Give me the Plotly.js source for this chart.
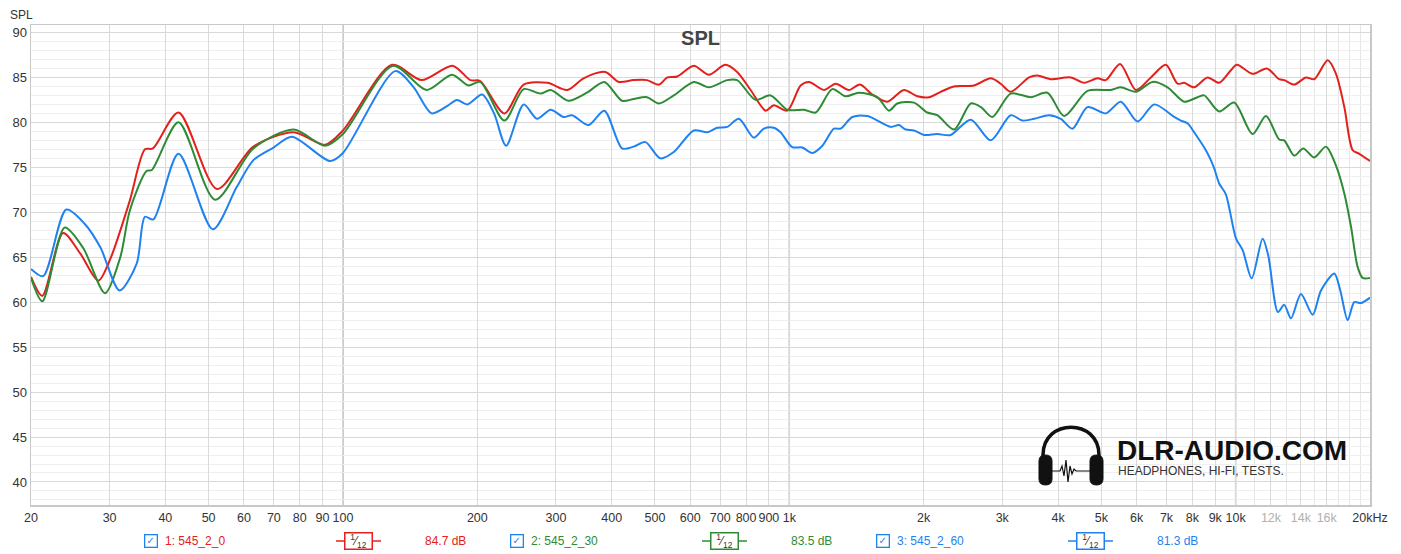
<!DOCTYPE html>
<html>
<head>
<meta charset="utf-8">
<script src="https://cdn.plot.ly/plotly-3.0.1.min.js"></script>
<style>
html, body { margin: 0; padding: 0; background: #fff; }
#plot { width: 1401px; height: 554px; }
</style>
</head>
<body>
<div id="plot"></div>
<script>
// measured curves, frequency in Hz and level in dB
const freqRed = [20, 21.2, 23.6, 25.8, 28.3, 30.1, 33.3, 36, 37.5, 42.8, 52.2, 63, 77.5, 91.2, 100, 128.7, 150, 176, 193, 203, 230, 254, 287, 318, 346, 387, 415, 448, 480, 510, 533, 561, 611, 660, 719, 764, 819, 885, 923, 990, 1060, 1107, 1196, 1270, 1360, 1440, 1535, 1658, 1806, 1936, 2055, 2184, 2339, 2594, 2826, 2976, 3134, 3444, 3596, 3854, 4272, 4577, 4903, 5118, 5510, 5976, 6457, 6977, 7411, 7668, 8072, 8651, 9186, 9758, 10066, 10916, 11750, 12520, 12848, 13530, 14372, 15000, 16078, 16782, 17518, 18292, 18924, 20000];
const splRed = [62.8, 60.7, 67.7, 65.4, 62.4, 64.8, 71.3, 77.0, 77.1, 81.1, 72.6, 77.3, 78.9, 77.5, 79.1, 86.4, 84.7, 86.3, 84.7, 84.6, 81.0, 84.2, 84.4, 83.6, 84.9, 85.6, 84.5, 84.7, 84.7, 84.2, 85.0, 85.1, 86.3, 85.3, 86.4, 85.6, 83.6, 81.3, 81.9, 81.3, 84.1, 84.5, 83.6, 84.3, 83.6, 84.2, 83.1, 82.3, 83.6, 82.9, 82.8, 83.4, 84.0, 84.1, 84.9, 84.3, 83.4, 85.0, 85.2, 84.8, 85.0, 84.4, 84.9, 84.7, 86.5, 83.6, 85.0, 86.4, 84.3, 84.4, 83.9, 85.0, 84.4, 85.8, 86.4, 85.4, 86.0, 84.8, 84.7, 84.2, 85.0, 84.8, 86.9, 85.4, 81.7, 76.9, 76.5, 75.7];

const freqGreen = [20, 21.2, 23.8, 26.2, 29.3, 31.7, 33.3, 36.3, 37.3, 42.8, 51.7, 63, 77.5, 91.2, 100, 129.4, 154, 175.5, 191, 203, 230, 254, 277, 292, 320, 352, 385, 422, 448, 480, 510, 551, 611, 660, 726, 764, 840, 908, 990, 1079, 1146, 1248, 1337, 1432, 1575, 1672, 1746, 1902, 2038, 2146, 2339, 2550, 2686, 2851, 3134, 3476, 3788, 4128, 4656, 5252, 5530, 5976, 6512, 7038, 7668, 8220, 8506, 9186, 9922, 10912, 11694, 12520, 12848, 13530, 14174, 15000, 15934, 16782, 17518, 18134, 18768, 19258, 20000];
const splGreen = [62.7, 60.1, 68.3, 66.0, 61.0, 65.0, 70.2, 74.6, 74.7, 80.0, 71.4, 77.1, 79.2, 77.4, 78.7, 86.3, 83.6, 85.3, 84.1, 84.5, 80.2, 83.7, 83.2, 83.6, 82.4, 83.3, 84.5, 82.4, 82.6, 82.8, 82.1, 83.0, 84.5, 83.9, 84.7, 84.7, 82.5, 83.0, 81.4, 81.4, 81.1, 83.7, 82.9, 83.3, 82.8, 81.3, 82.1, 82.2, 81.1, 80.8, 79.2, 82.1, 81.7, 80.6, 83.2, 82.8, 83.3, 80.7, 83.5, 83.6, 83.9, 83.4, 84.5, 83.9, 82.3, 82.8, 83.0, 81.2, 82.2, 78.7, 80.7, 78.1, 78.0, 76.3, 77.1, 76.1, 77.3, 75.2, 72.1, 68.4, 63.9, 62.7, 62.7];

const freqBlue = [20, 21.3, 24.0, 26.4, 28.6, 31.6, 34.5, 36.0, 37.6, 42.8, 51.1, 57.8, 63, 69.9, 76.8, 93.6, 100, 131, 144, 158, 171, 180, 190, 205, 218, 232, 254, 272, 292, 312, 326, 355, 385, 422, 448, 476, 514, 551, 611, 655, 689, 726, 771, 833, 877, 923, 956, 1015, 1069, 1126, 1186, 1259, 1303, 1384, 1496, 1687, 1760, 1823, 1902, 2003, 2146, 2299, 2550, 2826, 3134, 3329, 3534, 3819, 4058, 4310, 4656, 5118, 5530, 6028, 6568, 7282, 7538, 7804, 8072, 8576, 8798, 8950, 9186, 9508, 10016, 10368, 10862, 11494, 11832, 12438, 12848, 13302, 14006, 14878, 15530, 16634, 17158, 17826, 18442, 19090, 20000];
const splBlue = [63.7, 62.9, 70.3, 68.7, 66.1, 61.3, 64.3, 69.5, 69.2, 76.5, 68.1, 72.8, 75.8, 77.2, 78.4, 75.7, 76.6, 85.7, 83.9, 81.0, 81.8, 82.5, 82.0, 83.1, 81.0, 77.4, 82.0, 80.4, 81.4, 80.6, 80.8, 79.7, 81.3, 77.1, 77.3, 77.8, 76.0, 76.7, 79.1, 78.9, 79.4, 79.5, 80.4, 78.3, 79.3, 79.4, 78.9, 77.25, 77.2, 76.6, 77.4, 79.3, 79.3, 80.6, 80.7, 79.5, 79.7, 79.2, 79.1, 78.6, 78.7, 78.6, 80.3, 78.0, 80.8, 80.2, 80.4, 80.8, 80.4, 79.3, 81.7, 81.0, 82.3, 80.1, 82.0, 80.6, 80.2, 79.9, 78.9, 76.9, 75.8, 74.9, 73.2, 72.0, 67.1, 65.8, 62.65, 67.05, 65.2, 58.9, 59.7, 58.2, 60.9, 58.6, 61.3, 63.2, 61.3, 58.0, 60.0, 59.9, 60.5];

const seriesNames = ['1: 545_2_0', '2: 545_2_30', '3: 545_2_60'];
const seriesLevels = ['84.7 dB', '83.5 dB', '81.3 dB'];
const seriesColors = ['#e3211c', '#2e8b35', '#1e82f0'];

const xTickVals = [20, 30, 40, 50, 60, 70, 80, 90, 100, 200, 300, 400, 500, 600, 700, 800, 900, 1000, 2000, 3000, 4000, 5000, 6000, 7000, 8000, 9000, 10000, 12000, 14000, 16000, 20000];
const xTickText = ['20', '30', '40', '50', '60', '70', '80', '90', '100', '200', '300', '400', '500', '600', '700', '800', '900', '1k', '2k', '3k', '4k', '5k', '6k', '7k', '8k', '9k', '10k',
  '<span style="color:#b0b0b0">12k</span>', '<span style="color:#b0b0b0">14k</span>', '<span style="color:#b0b0b0">16k</span>', '20kHz'];
const xMinorVals = [11000, 12000, 13000, 14000, 15000, 16000, 17000, 18000, 19000];
const decadeVals = [100, 1000, 10000];
const fMin = 20, fMax = 20000;

const FONT = 'Liberation Sans, Arial, Helvetica, sans-serif';

// plot area in pixels, used to place the decorations below the chart
const L = 31, R = 1370, T = 25, B = 505;
function px(x) { return (x - L) / (R - L); }
function py(y) { return (B - y) / (B - T); }
function pt(x, y) { return px(x).toFixed(5) + ',' + py(y).toFixed(5); }
function fx(f) { return (Math.log10(f) - Math.log10(fMin)) / (Math.log10(fMax) - Math.log10(fMin)); }

let traces = [
  { x: freqRed, y: splRed, color: seriesColors[0] },
  { x: freqGreen, y: splGreen, color: seriesColors[1] },
  { x: freqBlue, y: splBlue, color: seriesColors[2] }
].map(s => ({
  x: s.x,
  y: s.y,
  type: 'scatter',
  mode: 'lines',
  line: { color: s.color, width: 2, shape: 'spline', smoothing: 0.8 },
  hoverinfo: 'skip'
}));

// darker grid line at each decade
let shapes = decadeVals.map(v => ({
  type: 'line', xref: 'paper', yref: 'paper',
  x0: fx(v), x1: fx(v), y0: 0, y1: 1,
  line: { color: '#b8b8b8', width: 1.5 }, layer: 'below'
}));

let annotations = [
  { text: 'SPL', xref: 'paper', yref: 'paper', x: px(21), y: py(15), showarrow: false,
    xanchor: 'center', yanchor: 'middle', font: { family: FONT, size: 12, color: '#333' } }
];

// legend row under the x axis
const rowY = 541;
seriesNames.forEach((name, i) => {
  const off = i * 366;
  const c = seriesColors[i];
  annotations.push({
    text: '✓', xref: 'paper', yref: 'paper', x: px(151 + off), y: py(rowY),
    showarrow: false, xanchor: 'center', yanchor: 'middle',
    font: { family: 'DejaVu Sans', size: 10, color: '#1e82f0' },
    bordercolor: '#1e82f0', borderwidth: 1.3, borderpad: 0, width: 11, height: 11, bgcolor: '#fff'
  });
  annotations.push({
    text: name, xref: 'paper', yref: 'paper', x: px(163 + off), y: py(rowY),
    showarrow: false, xanchor: 'left', yanchor: 'middle',
    font: { family: FONT, size: 12, color: c }
  });
  shapes.push({
    type: 'line', xref: 'paper', yref: 'paper',
    x0: px(336 + off), x1: px(381 + off), y0: py(rowY), y1: py(rowY),
    line: { color: c, width: 1.5 }
  });
  annotations.push({
    text: '<sup>1</sup>⁄<sub>12</sub>', xref: 'paper', yref: 'paper', x: px(358.5 + off), y: py(rowY),
    showarrow: false, xanchor: 'center', yanchor: 'middle',
    font: { family: FONT, size: 12, color: '#333' },
    bordercolor: c, borderwidth: 1.5, borderpad: 0, width: 26, height: 15, bgcolor: '#fff'
  });
  annotations.push({
    text: seriesLevels[i], xref: 'paper', yref: 'paper', x: px(445 + off), y: py(rowY),
    showarrow: false, xanchor: 'center', yanchor: 'middle',
    font: { family: FONT, size: 12, color: c }
  });
});

// watermark
shapes.push({
  type: 'path', xref: 'paper', yref: 'paper', layer: 'above',
  path: 'M' + pt(1043, 466) + ' L' + pt(1043, 455) + ' C' + pt(1043, 418) + ' ' + pt(1099, 418) + ' ' + pt(1099, 455) + ' L' + pt(1099, 466),
  line: { color: '#111', width: 3.5 }
});
[[1039, 1052], [1090, 1103]].forEach(([a, b]) => {
  shapes.push({
    type: 'path', xref: 'paper', yref: 'paper', layer: 'above',
    path: 'M' + pt(a, 461) + ' Q' + pt(a, 455) + ' ' + pt((a + b) / 2, 455) + ' Q' + pt(b, 455) + ' ' + pt(b, 461) +
      ' L' + pt(b, 479) + ' Q' + pt(b, 485) + ' ' + pt((a + b) / 2, 485) + ' Q' + pt(a, 485) + ' ' + pt(a, 479) + ' Z',
    fillcolor: '#111', line: { color: '#111', width: 1 }
  });
});
shapes.push({
  type: 'path', xref: 'paper', yref: 'paper', layer: 'above',
  path: 'M' + pt(1052, 471) + ' L' + pt(1060, 471) + ' L' + pt(1062, 466) + ' L' + pt(1064, 476) + ' L' + pt(1066, 460) +
    ' L' + pt(1068, 482) + ' L' + pt(1070, 466) + ' L' + pt(1072, 474) + ' L' + pt(1074, 469) + ' L' + pt(1076, 471) + ' L' + pt(1090, 471),
  line: { color: '#111', width: 1.2 }
});
annotations.push({
  text: '<b>DLR-AUDIO.COM</b>', xref: 'paper', yref: 'paper', x: px(1115), y: py(450),
  showarrow: false, xanchor: 'left', yanchor: 'middle',
  font: { family: FONT, size: 28, color: '#111' }
});
annotations.push({
  text: 'HEADPHONES, HI-FI, TESTS.', xref: 'paper', yref: 'paper', x: px(1116), y: py(471),
  showarrow: false, xanchor: 'left', yanchor: 'middle',
  font: { family: FONT, size: 12, color: '#333' }
});

let layout = {
  width: 1401,
  height: 554,
  margin: { l: L, r: 1401 - R, t: T, b: 554 - B, pad: 0 },
  paper_bgcolor: '#fff',
  plot_bgcolor: '#fff',
  showlegend: false,
  hovermode: false,
  font: { family: FONT, size: 13, color: '#333' },
  title: {
    text: '<b>SPL</b>', x: 0.5, xref: 'paper', y: 1 - 38 / 554, yref: 'container', yanchor: 'middle',
    font: { family: FONT, size: 20, color: '#444' }
  },
  xaxis: {
    type: 'log',
    range: [Math.log10(fMin), Math.log10(fMax)],
    tickmode: 'array',
    tickvals: xTickVals,
    ticktext: xTickText,
    tickangle: 0,
    ticks: '',
    showgrid: true,
    gridcolor: '#dadada',
    gridwidth: 1,
    minor: { tickmode: 'array', tickvals: xMinorVals, showgrid: true, gridcolor: '#e6e6e6', ticks: '' },
    showline: true,
    linecolor: '#c8c8c8',
    linewidth: 1.5,
    mirror: true,
    zeroline: false,
    tickfont: { family: FONT, size: 12.5, color: '#333' }
  },
  yaxis: {
    range: [37.44, 90.83],
    tickmode: 'linear',
    tick0: 40,
    dtick: 5,
    ticks: '',
    showgrid: true,
    gridcolor: '#d9d9d9',
    gridwidth: 1,
    minor: { dtick: 1, showgrid: true, gridcolor: '#efefef', ticks: '' },
    showline: true,
    linecolor: '#c8c8c8',
    linewidth: 1.5,
    mirror: true,
    zeroline: false,
    tickfont: { family: FONT, size: 13, color: '#333' }
  },
  shapes: shapes,
  annotations: annotations
};

Plotly.newPlot(document.getElementById('plot'), traces, layout, { displayModeBar: false, staticPlot: true });
</script>
</body>
</html>
